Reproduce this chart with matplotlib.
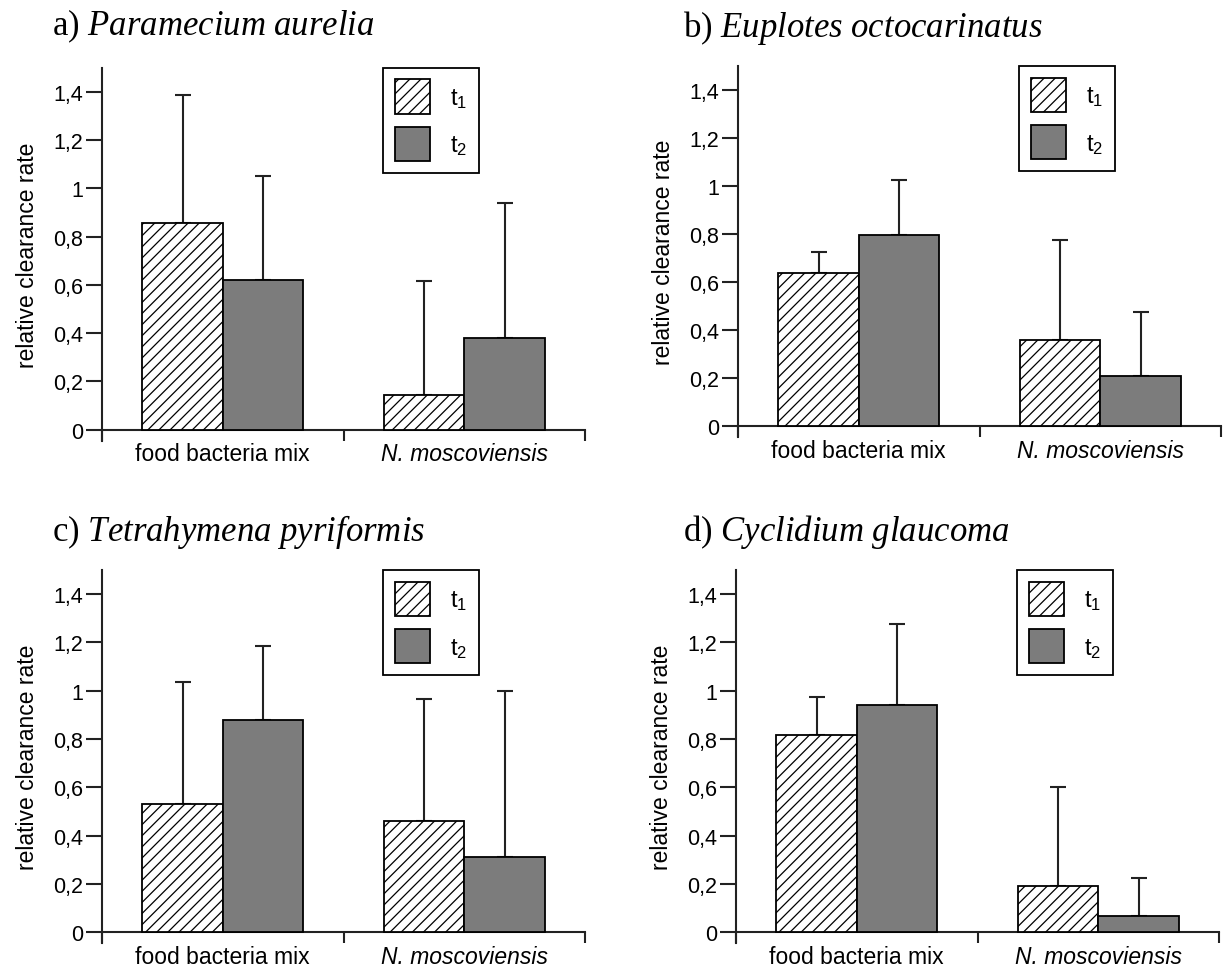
import matplotlib
matplotlib.use('Agg')
import matplotlib.pyplot as plt
import matplotlib.patches as mpatches
from matplotlib.ticker import FuncFormatter
import numpy as np

plt.rcParams['font.family'] = ['Liberation Sans', 'DejaVu Sans']
plt.rcParams['mathtext.fontset'] = 'custom'
plt.rcParams['mathtext.rm'] = 'Liberation Serif'
plt.rcParams['mathtext.it'] = 'Liberation Serif:italic'
plt.rcParams['hatch.linewidth'] = 0.9

# categories and panels
categories = ['food bacteria mix', 'N. moscoviensis']
titles = ['a) ', 'b) ', 'c) ', 'd) ']
species = ['Paramecium aurelia', 'Euplotes octocarinatus',
           'Tetrahymena pyriformis', 'Cyclidium glaucoma']

# mean relative clearance rate (t1, t2) per category
t1_mean = [[0.855, 0.145], [0.64, 0.36], [0.53, 0.46], [0.815, 0.19]]
t2_mean = [[0.62, 0.38], [0.795, 0.21], [0.88, 0.31], [0.94, 0.065]]
# top of error bar
t1_top = [[1.385, 0.615], [0.725, 0.775], [1.035, 0.965], [0.975, 0.60]]
t2_top = [[1.052, 0.94], [1.025, 0.475], [1.185, 1.0], [1.275, 0.225]]

yticks = [0, 0.2, 0.4, 0.6, 0.8, 1.0, 1.2, 1.4]

W, H = 1231, 970
fig = plt.figure(figsize=(W / 100, H / 100), dpi=100)

# axes boxes in pixels: left, right, top, bottom
boxes = [(102, 585, 68.6, 441.6), (738, 1221, 67, 438),
         (102, 585, 571, 944), (736, 1219, 571, 944)]
# title position (x, baseline) in pixels
title_pos = [(52, 35), (683, 37), (52, 541), (683, 541)]

def fmt(v, pos):
    s = ('%g' % round(v, 1)).replace('.', ',')
    return s

x = np.arange(len(categories))
w = 1 / 3
dark = '#7c7c7c'

for i in range(4):
    l, r, t, b = boxes[i]
    ax = fig.add_axes([l / W, 1 - b / H, (r - l) / W, (b - t) / H])
    m1, m2 = np.array(t1_mean[i]), np.array(t2_mean[i])
    e1, e2 = np.array(t1_top[i]) - m1, np.array(t2_top[i]) - m2
    ax.bar(x - w / 2, m1, w, facecolor='white', edgecolor='black',
           hatch='///', linewidth=1.3, zorder=3)
    ax.bar(x + w / 2, m2, w, facecolor=dark, edgecolor='black',
           linewidth=1.3, zorder=3)
    ax.errorbar(x - w / 2, m1, yerr=[np.zeros(2), e1], fmt='none',
                ecolor='#222222', elinewidth=1.5, capsize=6, capthick=1.5, zorder=2)
    ax.errorbar(x + w / 2, m2, yerr=[np.zeros(2), e2], fmt='none',
                ecolor='#222222', elinewidth=1.5, capsize=6, capthick=1.5, zorder=2)

    ax.set_xlim(-0.5, 1.5)
    ax.set_ylim(-0.045, 1.5)
    ax.spines['top'].set_visible(False)
    ax.spines['right'].set_visible(False)
    ax.spines['bottom'].set_position(('data', 0))
    for s in ('left', 'bottom'):
        ax.spines[s].set_linewidth(1.5)
        ax.spines[s].set_color('#222222')

    ax.set_yticks(yticks)
    ax.yaxis.set_major_formatter(FuncFormatter(fmt))
    ax.tick_params(axis='y', length=11.5, width=1.5, labelsize=15.5, pad=2, color='#222222')

    ax.set_xticks([-0.5, 0.5, 1.5])
    ax.set_xticklabels(['', '', ''])
    ax.tick_params(axis='x', which='major', length=8, width=1.5, direction='out', color='#222222')
    ax.set_xticks(x, minor=True)
    ax.set_xticklabels(categories, minor=True)
    ax.tick_params(axis='x', which='minor', length=0, labelsize=16.5, pad=9)
    ax.get_xticklabels(minor=True)[1].set_style('italic')

    ax.set_ylabel('relative clearance rate', fontsize=16.5, labelpad=10)

    sp = species[i].replace(' ', r'\ ')
    tx, ty = title_pos[i]
    fig.text(tx / W, 1 - ty / H, titles[i] + r'$\mathit{' + sp + '}$',
             fontsize=25, family='Liberation Serif', ha='left', va='baseline')

    h1 = mpatches.Patch(facecolor='white', edgecolor='black', hatch='///', linewidth=1.3)
    h2 = mpatches.Patch(facecolor=dark, edgecolor='black', linewidth=1.3)
    leg = ax.legend([h1, h2], [r'$\mathregular{t_1}$', r'$\mathregular{t_2}$'],
                    loc='upper left', bbox_to_anchor=(0.582, 1.0), fontsize=17,
                    handlelength=1.5, handleheight=1.85, handletextpad=0.85,
                    labelspacing=0.55, borderpad=0.5, borderaxespad=0,
                    fancybox=False, edgecolor='black', framealpha=1)
    leg.get_frame().set_linewidth(1.3)

fig.savefig('out.png', dpi=100)
